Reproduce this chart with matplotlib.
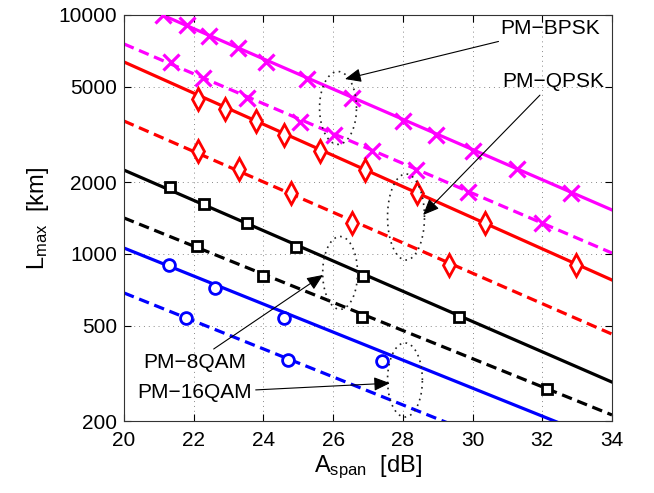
import numpy as np
import matplotlib
matplotlib.use("Agg")
import matplotlib.pyplot as plt

plt.rcParams['font.family'] = ['Liberation Sans', 'DejaVu Sans']
plt.rcParams['mathtext.fontset'] = 'custom'
plt.rcParams['mathtext.rm'] = 'Liberation Sans'
plt.rcParams['mathtext.it'] = 'Liberation Sans'
plt.rcParams['mathtext.default'] = 'regular'

# ---- data ----
x_ends = [20, 34]
# straight lines (log scale): values at A=20 and A=34
bpsk_solid = [11730, 1528]
bpsk_dash = [7565, 1009]
qpsk_solid = [6360, 778]
qpsk_dash = [3600, 462]
qam8_solid = [2244, 291]
qam8_dash = [1415, 212]
qam16_solid = [1059, 160]
qam16_dash = [687, 104]

# markers
bpsk_s_x = [21.13, 21.82, 22.45, 23.26, 24.07, 25.24, 26.55, 28.01, 28.95, 30.0, 31.28, 32.81]
bpsk_s_y = [10000, 9080, 8170, 7260, 6380, 5400, 4500, 3610, 3140, 2700, 2260, 1800]
bpsk_d_x = [21.34, 22.28, 23.52, 25.05, 26.03, 27.11, 28.38, 29.88, 31.98]
bpsk_d_y = [6340, 5435, 4510, 3578, 3148, 2705, 2246, 1813, 1352]
qpsk_s_x = [22.13, 22.90, 23.78, 24.60, 25.62, 26.91, 28.41, 30.36, 32.96]
qpsk_s_y = [4450, 4045, 3610, 3148, 2705, 2246, 1805, 1352, 899]
qpsk_d_x = [22.13, 23.31, 24.79, 26.53, 29.33]
qpsk_d_y = [2705, 2260, 1805, 1352, 899]
qam8_s_x = [21.32, 22.29, 23.52, 24.93, 26.87, 29.62]
qam8_s_y = [1903, 1620, 1352, 1073, 809, 543]
qam8_d_x = [22.08, 23.98, 26.84, 32.13]
qam8_d_y = [1080, 809, 543, 272]
qam16_s_x = [21.30, 22.62, 24.59, 27.39]
qam16_s_y = [899, 718, 541, 358]
qam16_d_x = [21.78, 24.70]
qam16_d_y = [541, 360]

xticks = [20, 22, 24, 26, 28, 30, 32, 34]
yticks = [200, 500, 1000, 2000, 5000, 10000]

# ellipses: (center A, center L, width dB, height decades)
ellipses = [(26.14, 4083, 1.06, 0.305), (28.09, 1428, 1.06, 0.36),
            (26.2, 833, 1.0, 0.305), (28.06, 297, 1.0, 0.31)]

# annotations: label, arrow tip (A, L), text position (A, L), alignment
labels = ['PM\u2212BPSK', 'PM\u2212QPSK', 'PM\u22128QAM', 'PM\u221216QAM']
tips = [(26.34, 5395), (28.58, 1456), (25.71, 817), (27.63, 288)]
text_pos = [(30.79, 8750), (30.84, 5250), (22.02, 353), (20.37, 262)]
text_ha = ['left', 'left', 'center', 'left']

fig = plt.figure(figsize=(6.54, 4.93), dpi=100)
ax = fig.add_axes([0.1896, 0.146, 0.7462, 0.8236])

lw = 2.3
dash = (3.3, 1.8)
def series(ends, mx, my, color, marker, dashed, ms, mew):
    l, = ax.plot(x_ends, ends, color=color, lw=lw, ls='-')
    if dashed:
        l.set_dashes(dash)
    ax.plot(mx, my, ls='none', marker=marker, color=color, ms=ms, mew=mew,
            mfc='white' if marker != 'x' else color, zorder=3)

series(bpsk_solid, bpsk_s_x, bpsk_s_y, '#ff00ff', 'x', False, 11, 2.3)
series(bpsk_dash, bpsk_d_x, bpsk_d_y, '#ff00ff', 'x', True, 11, 2.3)
series(qpsk_solid, qpsk_s_x, qpsk_s_y, '#ff0000', 'd', False, 11, 2.0)
series(qpsk_dash, qpsk_d_x, qpsk_d_y, '#ff0000', 'd', True, 11, 2.0)
series(qam8_solid, qam8_s_x, qam8_s_y, 'black', 's', False, 7, 2.0)
series(qam8_dash, qam8_d_x, qam8_d_y, 'black', 's', True, 7, 2.0)
series(qam16_solid, qam16_s_x, qam16_s_y, '#0000ff', 'o', False, 8.5, 2.0)
series(qam16_dash, qam16_d_x, qam16_d_y, '#0000ff', 'o', True, 8.5, 2.0)

t = np.linspace(0, 2 * np.pi, 200)
for cx, cy, w, h in ellipses:
    e, = ax.plot(cx + w / 2 * np.cos(t), 10 ** (np.log10(cy) + h / 2 * np.sin(t)),
                 color='#222222', lw=1.2, zorder=4)
    e.set_dashes((1.0, 2.6))

ax.set_yscale('log')
ax.set_xlim(20, 34)
ax.set_ylim(200, 10000)
ax.set_xticks(xticks)
ax.set_xticklabels([str(v) for v in xticks])
ax.set_yticks(yticks)
ax.set_yticklabels([str(v) for v in yticks])
ax.yaxis.set_minor_locator(matplotlib.ticker.NullLocator())
ax.tick_params(direction='in', top=True, right=True, labelsize=15, length=5, width=0.8)
ax.tick_params(axis='x', pad=7)
ax.tick_params(axis='y', pad=5)
ax.grid(True, color='#888888', lw=0.7, dashes=(1, 4))
for s in ax.spines.values():
    s.set_linewidth(0.8)
    s.set_color('#333333')

ax.set_xlabel(r'A$_{span}$  [dB]', fontsize=17, labelpad=3)
ax.set_ylabel(r'L$_{max}$  [km]', fontsize=17, labelpad=5)

ap = dict(arrowstyle='-|>,head_length=0.7,head_width=0.3', color='black', lw=0.8,
          mutation_scale=14, shrinkA=1, shrinkB=0)
for lab, tip, tp, ha in zip(labels, tips, text_pos, text_ha):
    ax.annotate(lab, xy=tip, xytext=tp, fontsize=15, va='center', ha=ha,
                arrowprops=ap, zorder=5)

fig.savefig('out.png', dpi=100)
